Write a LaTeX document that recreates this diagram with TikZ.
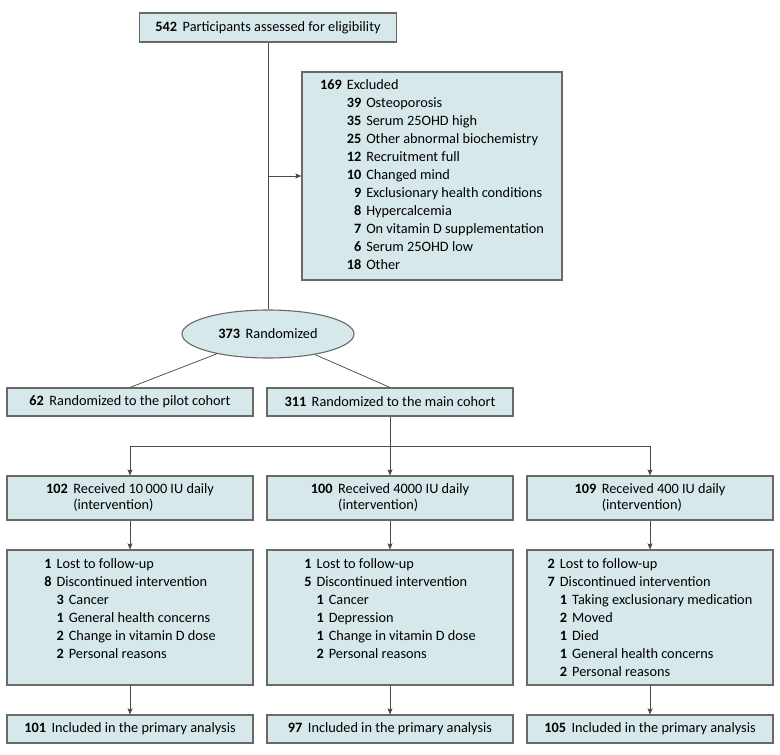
\documentclass[tikz,border=0pt]{standalone}
\usepackage{fontspec}
\setmainfont{Carlito}
\usetikzlibrary{arrows.meta,shapes.geometric}

\definecolor{boxfill}{RGB}{214,232,234}
\definecolor{boxline}{RGB}{105,105,105}
\definecolor{linegray}{RGB}{75,75,75}

\newcommand{\tally}[2]{\textbf{#1}\hspace{5.5pt}#2}

\begin{document}
\begin{tikzpicture}[
            x = 1pt, y = -1pt,
            every node/.style={font=\fontsize{14.3}{18}\selectfont, inner sep=0pt},
            box/.style={draw=boxline, fill=boxfill, line width=1.1pt, minimum width=246pt},
            line/.style={draw=linegray, line width=.75pt},
            arrow/.style={line, -{Stealth[length=6pt, width=5pt, inset=1pt]}},
            ]
        \useasboundingbox (0, 0) rectangle (780, 755);

        % screening
        \node[box, minimum width=257pt, minimum height=29pt] (assessed) at (268, 27.5)
            {\tally{542}{Participants assessed for eligibility}};
        \node[box, minimum width=260pt, minimum height=208pt] (excluded) at (432, 176) {%
            \begin{tabular}{@{}r@{\hspace{5pt}}r@{\hspace{5pt}}l@{}}
            \textbf{169} & \multicolumn{2}{@{}l@{}}{Excluded}\\
             & \textbf{39} & Osteoporosis\\
             & \textbf{35} & Serum 25OHD high\\
             & \textbf{25} & Other abnormal biochemistry\\
             & \textbf{12} & Recruitment full\\
             & \textbf{10} & Changed mind\\
             & \textbf{9} & Exclusionary health conditions\\
             & \textbf{8} & Hypercalcemia\\
             & \textbf{7} & On vitamin D supplementation\\
             & \textbf{6} & Serum 25OHD low\\
             & \textbf{18} & Other
            \end{tabular}};
        \node[box, ellipse, minimum width=172pt, minimum height=48pt] (randomized) at (268, 334)
            {\tally{373}{Randomized}};

        % cohorts
        \node[box, minimum height=28pt] (pilot) at (130, 402) {\tally{62}{Randomized to the pilot cohort}};
        \node[box, minimum height=28pt] (main) at (390, 402) {\tally{311}{Randomized to the main cohort}};

        % allocation
        \node[box, minimum height=44pt, font=\fontsize{14.3}{16}\selectfont] (recvA) at (130, 498)
            {\tally{102}{\begin{tabular}[t]{@{}l@{}}Received 10\,000 IU daily\\(intervention)\end{tabular}}};
        \node[box, minimum height=44pt, font=\fontsize{14.3}{16}\selectfont] (recvB) at (390, 498)
            {\tally{100}{\begin{tabular}[t]{@{}l@{}}Received 4000 IU daily\\(intervention)\end{tabular}}};
        \node[box, minimum height=44pt, font=\fontsize{14.3}{16}\selectfont] (recvC) at (650, 498)
            {\tally{109}{\begin{tabular}[t]{@{}l@{}}Received 400 IU daily\\(intervention)\end{tabular}}};

        % follow-up
        \node[box, minimum height=135pt] (lostA) at (130, 617.5) {};
        \node[box, minimum height=135pt] (lostB) at (390, 617.5) {};
        \node[box, minimum height=135pt] (lostC) at (650, 617.5) {};
        \node[anchor=north] (lostAtext) at (130, 556) {%
            \begin{tabular}{@{}r@{\hspace{5pt}}r@{\hspace{5pt}}l@{}}
            \textbf{1} & \multicolumn{2}{@{}l@{}}{Lost to follow-up}\\
            \textbf{8} & \multicolumn{2}{@{}l@{}}{Discontinued intervention}\\
             & \textbf{3} & Cancer\\
             & \textbf{1} & General health concerns\\
             & \textbf{2} & Change in vitamin D dose\\
             & \textbf{2} & Personal reasons
            \end{tabular}};
        \node[anchor=north] (lostBtext) at (390, 556) {%
            \begin{tabular}{@{}r@{\hspace{5pt}}r@{\hspace{5pt}}l@{}}
            \textbf{1} & \multicolumn{2}{@{}l@{}}{Lost to follow-up}\\
            \textbf{5} & \multicolumn{2}{@{}l@{}}{Discontinued intervention}\\
             & \textbf{1} & Cancer\\
             & \textbf{1} & Depression\\
             & \textbf{1} & Change in vitamin D dose\\
             & \textbf{2} & Personal reasons
            \end{tabular}};
        \node[anchor=north] (lostCtext) at (650, 556) {%
            \begin{tabular}{@{}r@{\hspace{5pt}}r@{\hspace{5pt}}l@{}}
            \textbf{2} & \multicolumn{2}{@{}l@{}}{Lost to follow-up}\\
            \textbf{7} & \multicolumn{2}{@{}l@{}}{Discontinued intervention}\\
             & \textbf{1} & Taking exclusionary medication\\
             & \textbf{2} & Moved\\
             & \textbf{1} & Died\\
             & \textbf{1} & General health concerns\\
             & \textbf{2} & Personal reasons
            \end{tabular}};

        % analysis
        \node[box, minimum height=28pt] (inclA) at (130, 729) {\tally{101}{Included in the primary analysis}};
        \node[box, minimum height=28pt] (inclB) at (390, 729) {\tally{97}{Included in the primary analysis}};
        \node[box, minimum height=28pt] (inclC) at (650, 729) {\tally{105}{Included in the primary analysis}};

        \coordinate (branch) at (268, 176);
        \coordinate (split) at (390, 446);

        \draw[line] (assessed) -- (randomized);
        \draw[arrow] (branch) -- (excluded);
        \draw[line] (randomized) -- (pilot.north);
        \draw[line] (randomized) -- (main.north);
        \draw[line] (main) -- (split);
        \draw[arrow] (split) -| (recvA);
        \draw[arrow] (split) -- (recvB);
        \draw[arrow] (split) -| (recvC);
        \draw[arrow] (recvA) -- (lostA);
        \draw[arrow] (recvB) -- (lostB);
        \draw[arrow] (recvC) -- (lostC);
        \draw[arrow] (lostA) -- (inclA);
        \draw[arrow] (lostB) -- (inclB);
        \draw[arrow] (lostC) -- (inclC);
    \end{tikzpicture}
\end{document}
